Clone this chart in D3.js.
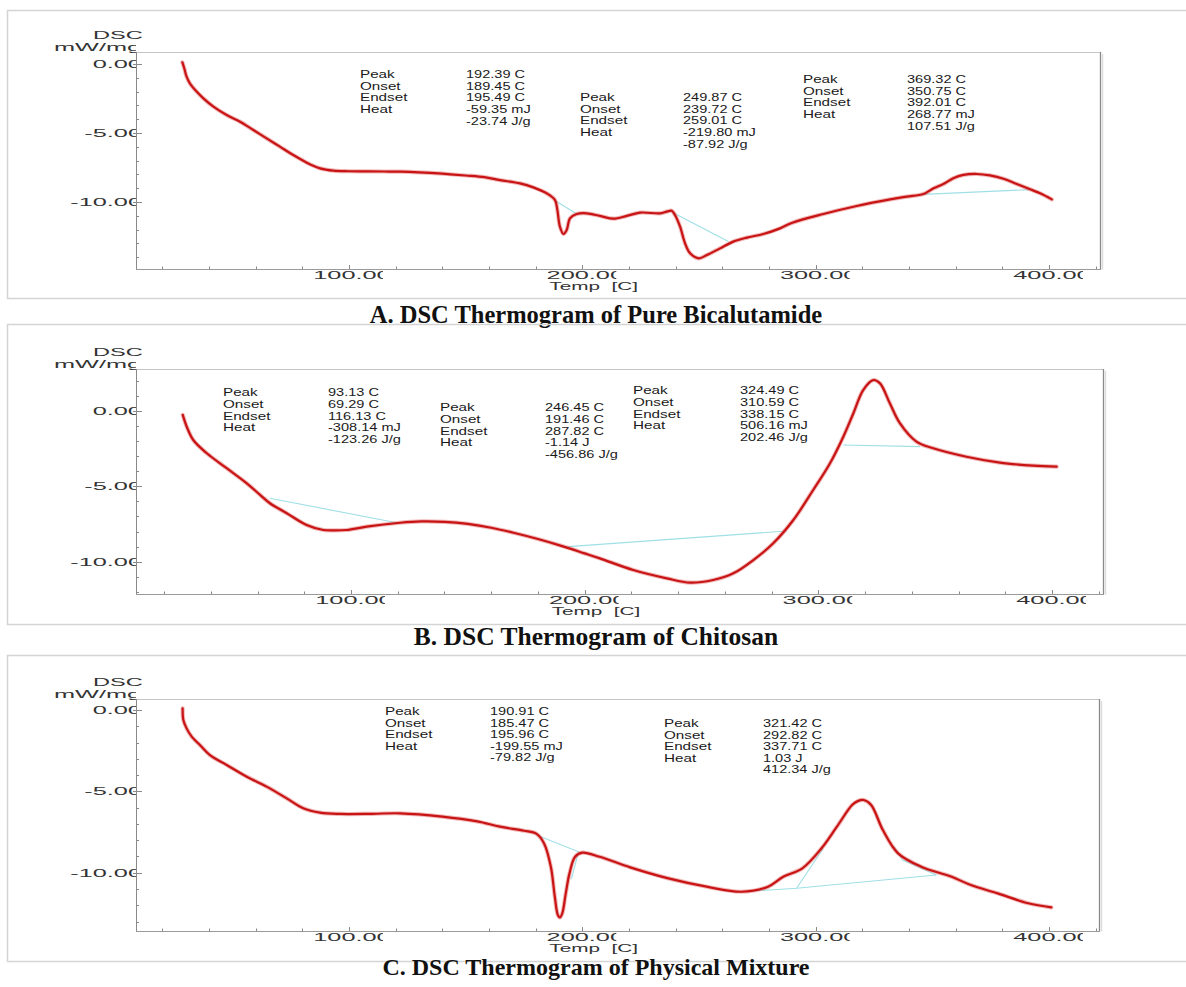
<!DOCTYPE html>
<html>
<head>
<meta charset="utf-8">
<script src="https://cdn.jsdelivr.net/npm/d3@7"></script>
<style>
  body { margin: 0; background: #fff; }
  svg { display: block; }
</style>
</head>
<body>
<svg id="chart" width="1186" height="987"></svg>
<script>
// ---- DSC curves: temperature [C] and heat flow [mW/mg] ----
const tempA = [28.6, 29.4, 30.4, 31.8, 34.7, 37.6, 41.9, 47.6, 53.3, 59, 64.7, 70.4, 76.1, 81.9, 87.6, 93.3, 100, 107.6, 115, 122, 130, 140, 150, 158, 164.7, 173.3, 179, 184.7, 188.3, 189.3, 190.4, 191.9, 193.3, 194.7, 197.6, 201.9, 207.6, 213.3, 219, 224.7, 233.3, 236.2, 238.3, 239.7, 241.9, 244, 246.2, 249.8, 253.4, 259, 264.7, 270.5, 277.6, 284.7, 290, 303.3, 317.6, 331.9, 339, 346.2, 350.5, 354.7, 359, 363.3, 369, 374.7, 380.5, 386.2, 391.9, 396.2, 401.2];
const dscA = [0.12, -0.31, -0.92, -1.40, -2.0, -2.49, -3.09, -3.70, -4.18, -4.78, -5.39, -5.99, -6.59, -7.15, -7.56, -7.73, -7.77, -7.78, -7.79, -7.80, -7.85, -7.95, -8.08, -8.2, -8.41, -8.65, -8.94, -9.37, -9.86, -10.58, -11.79, -12.32, -12.03, -11.18, -10.87, -10.82, -11.01, -11.21, -11.01, -10.77, -10.82, -10.70, -10.63, -10.94, -11.79, -12.99, -13.72, -14.08, -13.84, -13.36, -12.87, -12.58, -12.32, -11.91, -11.5, -10.87, -10.29, -9.81, -9.61, -9.42, -9.01, -8.70, -8.28, -8.04, -7.97, -8.07, -8.31, -8.70, -9.08, -9.37, -9.81];

const tempB = [28, 29.7, 32.5, 38.3, 46.8, 55.4, 61.1, 65.3, 72.5, 81, 88.2, 93, 98.2, 106.7, 121, 130, 140, 150, 160, 170, 180, 190, 200, 206.5, 220.8, 235.1, 245.1, 255, 263.6, 272.2, 280.7, 289.3, 297.8, 305, 310.7, 315, 319.2, 323.5, 326.4, 330.6, 334.9, 342, 349.2, 363.4, 377.7, 392, 402];
const dscB = [-0.28, -1.06, -1.94, -2.82, -3.81, -4.81, -5.58, -6.13, -6.79, -7.57, -7.90, -7.93, -7.90, -7.68, -7.42, -7.33, -7.36, -7.5, -7.75, -8.1, -8.5, -8.95, -9.45, -9.78, -10.55, -11.1, -11.39, -11.21, -10.77, -9.89, -8.78, -7.24, -5.25, -3.48, -1.72, -0.17, 1.37, 2.03, 1.81, 0.49, -0.83, -2.05, -2.49, -3.05, -3.44, -3.64, -3.71];

const tempC = [28.7, 29, 30.4, 32.6, 36.1, 40.4, 47.6, 56.2, 64.7, 73.3, 80.4, 87.6, 96.1, 110, 121.9, 140, 155, 164.7, 175, 180.3, 183.6, 186.5, 188.2, 189.5, 190.4, 191.4, 192.9, 194.5, 196.9, 200, 207.4, 220.5, 236.9, 253.3, 268.1, 279.6, 286.1, 294.3, 302.5, 309.1, 315.6, 318, 320.6, 323.8, 328.8, 335.3, 345.2, 358.3, 366.5, 378, 391.1, 401];
const dscC = [0.10, -0.61, -1.13, -1.64, -2.15, -2.77, -3.38, -4.10, -4.71, -5.43, -6.04, -6.31, -6.39, -6.38, -6.35, -6.55, -6.85, -7.17, -7.42, -7.6, -8.20, -9.63, -11.47, -12.6, -12.75, -12.5, -11.27, -10.04, -9.02, -8.77, -9.02, -9.67, -10.35, -10.86, -11.17, -10.86, -10.25, -9.73, -8.50, -7.17, -5.84, -5.6, -5.53, -5.84, -7.38, -8.81, -9.63, -10.25, -10.76, -11.27, -11.88, -12.13];

// ---- peak integration baselines / tangents, [temp, mW/mg] ----
const baselinesA = [
  [[188.8, -9.95], [197.6, -10.87]],
  [[238.5, -10.75], [262.6, -12.87]],
  [[346.2, -9.45], [391.9, -9.1]]
];
const baselinesB = [
  [[65.3, -5.8], [119.6, -7.42]],
  [[193, -9.0], [286.5, -7.97]],
  [[310.7, -2.27], [343.5, -2.38]]
];
const baselinesC = [
  [[180.3, -7.68], [198.4, -8.71], [195.3, -10.4]],
  [[268, -11.17], [291.8, -10.96], [303.3, -8.5]],
  [[291.8, -10.96], [351.7, -10.14]],
  [[333.7, -8.4], [337.2, -9.22], [351.7, -10.14]]
];

// ---- peak analysis results ----
const noteLabels = ['Peak', 'Onset', 'Endset', 'Heat'];
const notesA = [
  ['192.39 C', '189.45 C', '195.49 C', '-59.35 mJ', '-23.74 J/g'],
  ['249.87 C', '239.72 C', '259.01 C', '-219.80 mJ', '-87.92 J/g'],
  ['369.32 C', '350.75 C', '392.01 C', '268.77 mJ', '107.51 J/g']
];
const notesB = [
  ['93.13 C', '69.29 C', '116.13 C', '-308.14 mJ', '-123.26 J/g'],
  ['246.45 C', '191.46 C', '287.82 C', '-1.14 J', '-456.86 J/g'],
  ['324.49 C', '310.59 C', '338.15 C', '506.16 mJ', '202.46 J/g']
];
const notesC = [
  ['190.91 C', '185.47 C', '195.96 C', '-199.55 mJ', '-79.82 J/g'],
  ['321.42 C', '292.82 C', '337.71 C', '1.03 J', '412.34 J/g']
];

// ---- axis tick labels and titles ----
const xTickLabels = ['100.00', '200.00', '300.00', '400.00'];
const xTickValues = [100, 200, 300, 400];
const yTickValues = [0, -5, -10];
const yTickLabels = ['0.00', '-5.00', '-10.00'];
const yAxisTitle = ['DSC', 'mW/mg'];
const xAxisTitle = 'Temp  [C]';
const panelTitles = [
  'A. DSC Thermogram of Pure Bicalutamide',
  'B. DSC Thermogram of Chitosan',
  'C. DSC Thermogram of Physical Mixture'
];

// ---- panel layout ----
const panels = [
  { temp: tempA, dsc: dscA, bases: baselinesA, notes: notesA, title: panelTitles[0],
    frame: [10, 298], plot: [136, 1100, 52, 269], x100: 349, x400: 1049, y0: 64, y10: 202,
    noteBox: [[360, 466, 78], [580, 683, 101], [803, 907, 83]], rowStep: 11.7,
    titleY: 323, titleSize: 24.5 },
  { temp: tempB, dsc: dscB, bases: baselinesB, notes: notesB, title: panelTitles[1],
    frame: [324, 624], plot: [136, 1103, 369, 594], x100: 351, x400: 1052, y0: 410.7, y10: 561.7,
    noteBox: [[223, 328, 396], [440, 545, 411], [633, 740, 394]], rowStep: 11.8,
    titleY: 645, titleSize: 25.5 },
  { temp: tempC, dsc: dscC, bases: baselinesC, notes: notesC, title: panelTitles[2],
    frame: [655, 961], plot: [136, 1099, 699, 931], x100: 349, x400: 1049, y0: 710, y10: 872.7,
    noteBox: [[385, 490, 715], [664, 763, 727]], rowStep: 11.6,
    titleY: 975, titleSize: 24 }
];

const sansFont = "'Liberation Sans', Arial, sans-serif";
const serifFont = "'Liberation Serif', 'Times New Roman', serif";
const svg = d3.select('#chart');
const defs = svg.append('defs');

// the instrument software prints wide, stretched glyphs
function stretch(sel, factor) {
  sel.each(function () {
    const w = this.getComputedTextLength();
    this.setAttribute('textLength', (w * factor).toFixed(1));
    this.setAttribute('lengthAdjust', 'spacingAndGlyphs');
  });
  return sel;
}

panels.forEach((p, pi) => {
  const [L, R, T, B] = p.plot;
  const x = d3.scaleLinear().domain([100, 400]).range([p.x100, p.x400]);
  const y = d3.scaleLinear().domain([0, -10]).range([p.y0, p.y10]);
  const g = svg.append('g');

  // outer panel frame
  g.append('rect')
    .attr('x', 7.5).attr('y', p.frame[0] + 0.5)
    .attr('width', 1186).attr('height', p.frame[1] - p.frame[0])
    .attr('fill', 'none').attr('stroke', '#d4d4d4').attr('stroke-width', 1.5);

  // plot frame
  g.append('rect')
    .attr('x', L + 0.5).attr('y', T + 0.5)
    .attr('width', R - L).attr('height', B - T)
    .attr('fill', 'none').attr('stroke', '#c4c4c4').attr('stroke-width', 1);
  g.append('line')
    .attr('x1', L + 0.5).attr('x2', L + 0.5).attr('y1', T).attr('y2', B + 0.5)
    .attr('stroke', '#8a8a8a').attr('stroke-width', 1);
  g.append('line')
    .attr('x1', L).attr('x2', R + 0.5).attr('y1', B + 0.5).attr('y2', B + 0.5)
    .attr('stroke', '#9a9a9a').attr('stroke-width', 1);
  g.append('line')
    .attr('x1', R + 0.5).attr('x2', R + 0.5).attr('y1', T).attr('y2', B + 0.5)
    .attr('stroke', '#8a8a8a').attr('stroke-width', 1.3);
  g.append('line')
    .attr('x1', R + 2.5).attr('x2', R + 2.5).attr('y1', T + 2).attr('y2', B + 0.5)
    .attr('stroke', '#dcdcdc').attr('stroke-width', 1.5);

  // x ticks: minor every 20 C pointing into the plot
  const tLo = Math.ceil(x.invert(L) / 20) * 20;
  const tHi = Math.floor(x.invert(R) / 20) * 20;
  g.append('g').selectAll('line').data(d3.range(tLo, tHi + 1, 20)).join('line')
    .attr('x1', d => Math.round(x(d)) + 0.5).attr('x2', d => Math.round(x(d)) + 0.5)
    .attr('y1', B).attr('y2', d => B - (d % 100 === 0 ? 4 : 2.5))
    .attr('stroke', '#8a8a8a').attr('stroke-width', 1);

  // y ticks: minor every 1 mW/mg, major every 5
  const vLo = Math.ceil(y.invert(B));
  const vHi = Math.floor(y.invert(T));
  g.append('g').selectAll('line').data(d3.range(vLo, vHi + 1)).join('line')
    .attr('x1', d => (d % 5 === 0 ? L - 3 : L))
    .attr('x2', d => (d % 5 === 0 ? L + 6 : L + 3))
    .attr('y1', d => Math.round(y(d)) + 0.5).attr('y2', d => Math.round(y(d)) + 0.5)
    .attr('stroke', '#8a8a8a').attr('stroke-width', 1);

  // y tick labels, clipped at the plot's left edge
  const clipY = 'clipY' + pi;
  defs.append('clipPath').attr('id', clipY)
    .append('rect').attr('x', 0).attr('y', p.frame[0]).attr('width', L).attr('height', p.frame[1] - p.frame[0]);
  const yl = g.append('g').attr('clip-path', `url(#${clipY})`);
  yl.selectAll('text').data(yTickValues).join('text')
    .attr('x', L + 6).attr('y', d => y(d) + 4)
    .attr('text-anchor', 'end')
    .attr('font-family', sansFont).attr('font-size', 11.5).attr('fill', '#333')
    .text((d, i) => yTickLabels[i])
    .call(stretch, 2.2);
  yl.append('text')
    .attr('x', 54).attr('y', T - 1.5)
    .attr('font-family', sansFont).attr('font-size', 11.5).attr('fill', '#333')
    .text(yAxisTitle[1])
    .call(stretch, 2.2);
  g.append('text')
    .attr('x', 93).attr('y', T - 13)
    .attr('font-family', sansFont).attr('font-size', 11.5).attr('fill', '#333')
    .text(yAxisTitle[0])
    .call(stretch, 2.05);

  // x tick labels, each clipped on its right side
  xTickValues.forEach((t, i) => {
    const id = `clipX${pi}_${i}`;
    defs.append('clipPath').attr('id', id)
      .append('rect').attr('x', x(t) - 42).attr('y', B + 1).attr('width', 76).attr('height', 14);
    g.append('text')
      .attr('clip-path', `url(#${id})`)
      .attr('x', x(t) + 3).attr('y', B + 10)
      .attr('text-anchor', 'middle')
      .attr('font-family', sansFont).attr('font-size', 11.5).attr('fill', '#333')
      .text(xTickLabels[i])
      .call(stretch, 2.2);
  });
  g.append('text')
    .attr('x', x(200) - 33).attr('y', B + 20.5)
    .attr('font-family', sansFont).attr('font-size', 11.5).attr('fill', '#333')
    .style('white-space', 'pre')
    .text(xAxisTitle)
    .call(stretch, 1.8);

  // peak annotation blocks
  p.notes.forEach((vals, bi) => {
    const [lx, vx, y0] = p.noteBox[bi];
    const nb = g.append('g')
      .attr('font-family', sansFont).attr('font-size', 11.2).attr('fill', '#1a1a1a');
    nb.selectAll('text.lab').data(noteLabels).join('text').attr('class', 'lab')
      .attr('x', lx).attr('y', (d, i) => y0 + i * p.rowStep)
      .text(d => d).call(stretch, 1.36);
    nb.selectAll('text.val').data(vals).join('text').attr('class', 'val')
      .attr('x', vx).attr('y', (d, i) => y0 + i * p.rowStep)
      .text(d => d).call(stretch, 1.3);
  });

  // integration baselines
  const line = d3.line().x(d => x(d[0])).y(d => y(d[1]));
  g.append('g').selectAll('path').data(p.bases).join('path')
    .attr('d', line)
    .attr('fill', 'none').attr('stroke', '#9fdfe6').attr('stroke-width', 1.1);

  // DSC curve
  const pts = d3.zip(p.temp, p.dsc);
  const curve = d3.line().x(d => x(d[0])).y(d => y(d[1])).curve(d3.curveCatmullRom.alpha(0.5));
  g.append('path').attr('d', curve(pts))
    .attr('fill', 'none').attr('stroke', '#e06060').attr('stroke-opacity', 0.45)
    .attr('stroke-width', 4.2).attr('stroke-linejoin', 'round').attr('stroke-linecap', 'round');
  g.append('path').attr('d', curve(pts))
    .attr('fill', 'none').attr('stroke', '#c81414')
    .attr('stroke-width', 2.2).attr('stroke-linejoin', 'round').attr('stroke-linecap', 'round');

  // panel caption
  svg.append('text')
    .attr('x', 596).attr('y', p.titleY)
    .attr('text-anchor', 'middle')
    .attr('font-family', serifFont).attr('font-weight', 'bold').attr('font-size', p.titleSize)
    .attr('fill', '#111')
    .text(p.title);
});
</script>
</body>
</html>
